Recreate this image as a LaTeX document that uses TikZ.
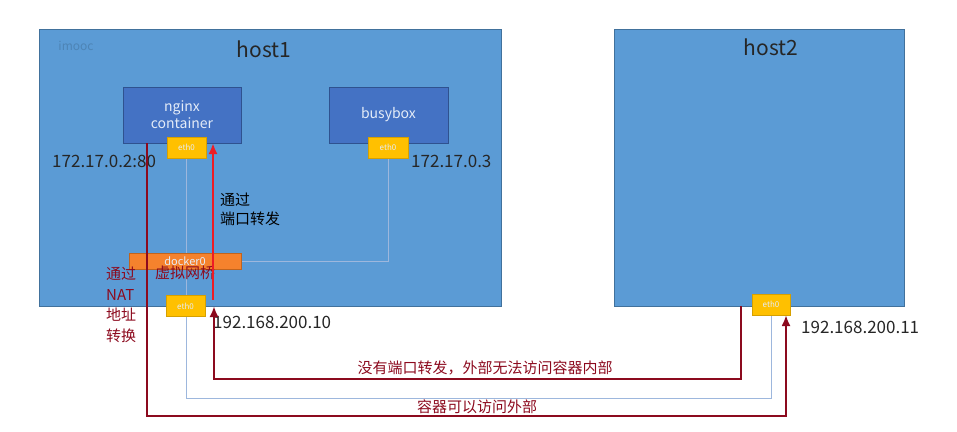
\documentclass[tikz,border=0pt]{standalone}
\usepackage{fontspec}
\setmainfont{Noto Sans CJK SC}
\usetikzlibrary{arrows.meta,calc}
\definecolor{hostblue}{HTML}{5B9BD5}
\definecolor{hostedge}{HTML}{41719C}
\definecolor{ctrblue}{HTML}{4472C4}
\definecolor{ctredge}{HTML}{2F528F}
\definecolor{ethyel}{HTML}{FFC000}
\definecolor{ethedge}{HTML}{D6A000}
\definecolor{dockor}{HTML}{F5822D}
\definecolor{dockedge}{HTML}{C0641E}
\definecolor{darkred}{HTML}{8C0A1E}
\definecolor{brightred}{HTML}{EE1C25}
\definecolor{linkblue}{HTML}{9DB7DD}
\definecolor{txtdark}{HTML}{262626}
\definecolor{ctrtxt}{HTML}{E4ECF8}
\pgfdeclarelayer{bg}
\pgfdeclarelayer{wires}
\pgfsetlayers{bg,wires,main}
\tikzset{
  hostbox/.style={draw=hostedge,fill=hostblue,line width=1pt,inner sep=0pt,outer sep=0pt},
  ctrbox/.style={draw=ctredge,fill=ctrblue,line width=1pt,inner sep=0pt,outer sep=0pt,text=ctrtxt,font=\fontsize{14}{17}\selectfont,align=center},
  ethbox/.style={draw=ethedge,fill=ethyel,line width=0.8pt,inner sep=0pt,outer sep=0pt,minimum height=21pt,text=ctrtxt,font=\fontsize{8}{9}\selectfont},
  dockbox/.style={draw=dockedge,fill=dockor,line width=0.8pt,inner sep=0pt,outer sep=0pt,text=ctrtxt,font=\fontsize{11}{12}\selectfont},
  iplabel/.style={text=txtdark,font=\fontsize{17}{19}\selectfont,inner sep=0pt},
  hosttitle/.style={text=txtdark,font=\fontsize{21}{24}\selectfont,inner sep=0pt},
  redtxt/.style={text=darkred,font=\fontsize{15}{20.5}\selectfont,inner sep=0pt,align=left},
  blktxt/.style={text=black,font=\fontsize{15}{19}\selectfont,inner sep=0pt,align=left},
  wire/.style={draw=linkblue,line width=1pt},
  natline/.style={draw=darkred,line width=2.8pt,-{Latex[length=11pt,width=9pt]}},
  fwdline/.style={draw=brightred,line width=2.8pt,-{Latex[length=11pt,width=9pt]}},
}
\begin{document}
\begin{tikzpicture}[x=1pt,y=-1pt]
\useasboundingbox (0,0) rectangle (957,431);
\begin{pgfonlayer}{bg}
\node[hostbox,minimum width=462pt,minimum height=277pt] (host1) at (270,167.5) {};
\node[hostbox,minimum width=290pt,minimum height=277pt] (host2) at (759,167.5) {};
\end{pgfonlayer}
\node[hosttitle] (t1) at (264,49) {host1};
\node[hosttitle] (t2) at (771,47) {host2};
\node[text=hostblue!85!black,font=\fontsize{12}{13}\selectfont,inner sep=0pt] (wm) at (76,46) {imooc};
\node[ctrbox,minimum width=118pt,minimum height=56pt] (nginx) at (182,115) {nginx\\container};
\node[ctrbox,minimum width=119pt,minimum height=56pt] (busy) at (388.5,115) {busybox};
\node[ethbox,minimum width=39pt] (eth0a) at (186.5,147.5) {eth0};
\node[ethbox,minimum width=40pt] (eth0b) at (388,147.5) {eth0};
\node[dockbox,minimum width=112pt,minimum height=16pt] (docker0) at (185,261) {docker0};
\node[ethbox,minimum width=39pt] (eth0h) at (185.5,306) {eth0};
\node[ethbox,minimum width=38pt] (eth0h2) at (771,304.5) {eth0};
\node[iplabel,anchor=west] (ipa) at (52,161) {172.17.0.2:80};
\node[iplabel,anchor=west] (ipb) at (411,161) {172.17.0.3};
\node[iplabel,anchor=west] (iph) at (213,322) {192.168.200.10};
\node[iplabel,anchor=west] (iph2) at (801,327) {192.168.200.11};
\node[blktxt,anchor=north west] (fwd) at (220,193) {通过\\端口转发};
\node[redtxt,anchor=north west] (nat) at (106,267) {通过\\NAT\\地址\\转换};
\node[redtxt,anchor=west] (bridge) at (155,273) {虚拟网桥};
\node[redtxt] (noacc) at (485,368) {没有端口转发，外部无法访问容器内部};
\node[redtxt] (canacc) at (477,407) {容器可以访问外部};
\begin{pgfonlayer}{wires}
\draw[wire] (eth0a.south) -- (eth0a.south |- 0,398) -| (eth0h2.south);
\draw[wire] (eth0b.south) |- (docker0.east);
\end{pgfonlayer}
\coordinate (natstart) at ($(nginx.south west)+(24,0)$);
\coordinate (natend) at ($(eth0h2.south east)+(-4,0)$);
\draw[natline] (natstart) -- (natstart |- 0,416) -| (natend);
\coordinate (nostart) at ($(host2.south west)+(127,0)$);
\coordinate (noend) at ($(eth0h.east)+(9,0)$);
\draw[natline] (nostart) -- (nostart |- 0,379) -| (noend);
\coordinate (fwdstart) at ($(eth0h.north east)+(8,4)$);
\draw[fwdline] (fwdstart) -- (fwdstart |- nginx.south);
\end{tikzpicture}
\end{document}
